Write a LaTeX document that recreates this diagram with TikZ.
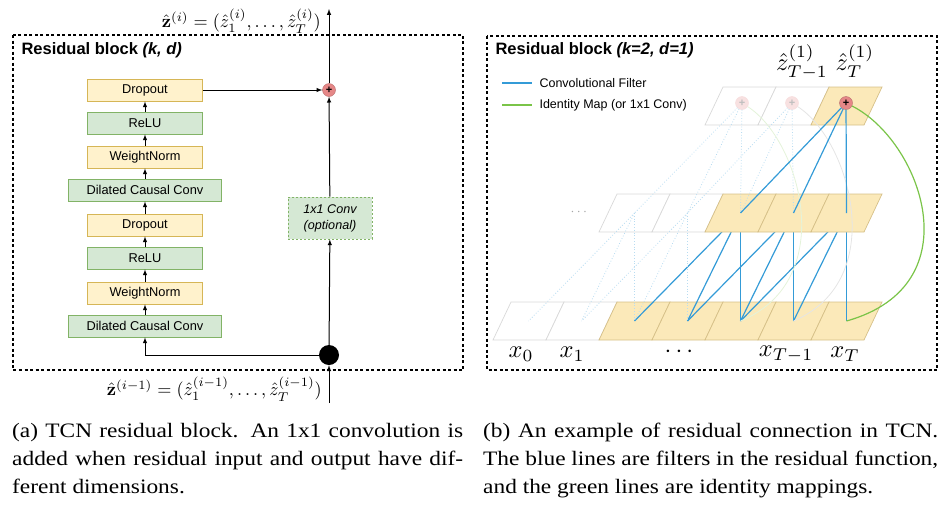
\documentclass[tikz,border=0pt]{standalone}
\usepackage{amsmath}
\usepackage{amssymb}
\usepackage[no-math]{fontspec}
\setmainfont{Liberation Serif}
\newfontfamily\helv{Liberation Sans}
\newfontfamily\capfont[FakeStretch=1.14]{Liberation Serif}
\usetikzlibrary{arrows}

\definecolor{ylwfill}{RGB}{255,242,204}
\definecolor{ylwdraw}{RGB}{214,182,86}
\definecolor{grnfill}{RGB}{213,232,212}
\definecolor{grndraw}{RGB}{130,179,102}
\definecolor{cellfill}{RGB}{251,233,185}
\definecolor{celldraw}{RGB}{214,192,136}
\definecolor{filterblue}{RGB}{52,155,215}
\definecolor{idgreen}{RGB}{122,196,72}
\definecolor{sumred}{RGB}{229,135,135}

\newcommand{\zmath}[1]{\scalebox{1.82}{$#1$}}
\newcommand{\xmath}[1]{\scalebox{2.45}{$#1$}}

\begin{document}
\begin{tikzpicture}[x=1pt,y=-1pt,>=latex,
  frame/.style={line width=1.3pt, dash pattern=on 3pt off 2.5pt},
  ylw/.style={draw=ylwdraw, fill=ylwfill, line width=0.8pt, minimum width=115pt,
    minimum height=22pt, inner sep=0pt, font=\helv\fontsize{12.8}{15}\selectfont},
  grn/.style={ylw, draw=grndraw, fill=grnfill},
  wide/.style={minimum width=153pt},
  flow/.style={->, line width=1pt},
  title/.style={anchor=west, font=\helv\bfseries\fontsize{16.5}{20}\selectfont},
  legend/.style={anchor=west, font=\helv\fontsize{12.5}{15}\selectfont},
  ycell/.style={draw=celldraw, fill=cellfill, line width=0.7pt},
  wcell/.style={draw=black!15, fill=white, line width=0.7pt},
  filter/.style={filterblue, line width=1.2pt},
  ident/.style={idgreen, line width=1.2pt},
  ghost/.style={filterblue!35, line width=0.8pt, dotted},
  sum/.style={circle, fill=sumred, draw=sumred!80!black, minimum size=13pt, inner sep=0pt,
    font=\helv\bfseries\fontsize{11}{11}\selectfont},
  caption/.style={anchor=north west, inner sep=0pt, align=justify,
    font=\capfont\fontsize{20.5}{28}\selectfont}]
\useasboundingbox (0,0) rectangle (951,507);
% (a) residual block
\draw[frame] (13,35) rectangle (463,370);
\node[title] (titleA) at (18,50) {Residual block \textit{(k, d)}};
%
\node[ylw] (drop1) at (145,90) {Dropout};
\node[grn] (relu1) at (145,123) {ReLU};
\node[ylw] (wn1) at (145,157) {WeightNorm};
\node[grn,wide] (dcc1) at (145,190) {Dilated Causal Conv};
\node[ylw] (drop2) at (145,225) {Dropout};
\node[grn] (relu2) at (145,258) {ReLU};
\node[ylw] (wn2) at (145,293) {WeightNorm};
\node[grn,wide] (dcc2) at (145,326) {Dilated Causal Conv};
%
\node[grn, dash pattern=on 2pt off 2pt, minimum width=84pt, minimum height=42pt,
  align=center, font=\helv\itshape\fontsize{12.6}{16}\selectfont] (conv) at (330,218) {1x1 Conv\\(optional)};
\node[sum] (plus) at (329,90) {+};
\node[circle, fill=black, minimum size=20pt, inner sep=0pt] (split) at (329,355) {};
\coordinate (zin) at (329,403);
\coordinate (zout) at (329,9);
%
\draw[flow] (dcc2) -- (wn2);
\draw[flow] (wn2) -- (relu2);
\draw[flow] (relu2) -- (drop2);
\draw[flow] (drop2) -- (dcc1);
\draw[flow] (dcc1) -- (wn1);
\draw[flow] (wn1) -- (relu1);
\draw[flow] (relu1) -- (drop1);
\draw[flow] (drop1) -- (plus);
\draw[flow] (zin) -- (split);
\draw[flow] (split) -- (conv);
\draw[flow] (conv) -- (plus);
\draw[flow] (plus) -- (zout);
\draw[flow] (split) -| (dcc2);
%
\node[anchor=east, inner sep=0pt] (zi) at (321,21)
  {\zmath{\hat{\mathbf{z}}^{(i)} = (\hat{z}_1^{(i)}, \ldots, \hat{z}_T^{(i)})}};
\node[anchor=east, inner sep=0pt] (zim) at (322,389)
  {\zmath{\hat{\mathbf{z}}^{(i-1)} = (\hat{z}_1^{(i-1)}, \ldots, \hat{z}_T^{(i-1)})}};
% (b) example, k=2, d=1
\draw[frame] (487,36) rectangle (937,370);
\node[title] (titleB) at (492,50) {Residual block \textit{(k=2, d=1)}};
\coordinate (lb1) at (502,83); \coordinate (lb2) at (532,83);
\coordinate (lg1) at (502,105); \coordinate (lg2) at (532,105);
\draw[filter] (lb1) -- (lb2);
\draw[ident] (lg1) -- (lg2);
\node[legend] (legb) at (536,83) {Convolutional Filter};
\node[legend] (legg) at (536,105) {Identity Map (or 1x1 Conv)};
%
\foreach \i/\s in {0/wcell,1/wcell,2/ycell,3/ycell,4/ycell,5/ycell,6/ycell}{
  \draw[\s] ({493+53*\i},340) -- ++(53,0) -- ++(18,-38) -- ++(-53,0) -- cycle;
  \coordinate (b\i) at ({493+53*\i+35.5},321);
}
\foreach \m in {4,5,6}{
  \pgfmathtruncatemacro{\ma}{\m-2}
  \pgfmathtruncatemacro{\mb}{\m-1}
  \coordinate (m\m) at ({493+53*\m+35.5},213);
  \draw[filter] (m\m) -- (b\ma);
  \draw[filter] (m\m) -- (b\mb);
  \draw[filter] (m\m) -- (b\m);
}
\foreach \i/\s in {2/wcell,3/wcell,4/ycell,5/ycell,6/ycell}{
  \draw[\s] ({493+53*\i},232) -- ++(53,0) -- ++(18,-38) -- ++(-53,0) -- cycle;
  \coordinate (m\i) at ({493+53*\i+35.5},213);
}
\foreach \i/\s in {4/wcell,5/wcell,6/ycell}{
  \draw[\s] ({493+53*\i},125) -- ++(53,0) -- ++(18,-38) -- ++(-53,0) -- cycle;
}
%
\node[sum, fill=sumred!25, draw=sumred!30, text=black!25] (t4) at (742,103) {+};
\node[sum, fill=sumred!25, draw=sumred!30, text=black!25] (t5) at (792,103) {+};
\draw[ghost] (t4) -- (m2); \draw[ghost] (t4) -- (m3); \draw[ghost] (t4) -- (m4);
\draw[ghost] (t5) -- (m3); \draw[ghost] (t5) -- (m4); \draw[ghost] (t5) -- (m5);
\draw[ghost] (m2) -- (b0); \draw[ghost] (m2) -- (b1); \draw[ghost] (m2) -- (b2);
\draw[ghost] (m3) -- (b1); \draw[ghost] (m3) -- (b2); \draw[ghost] (m3) -- (b3);
\draw[idgreen!20, line width=0.8pt] (t4) .. controls (800,140) and (840,280) .. (b4);
\draw[black!10, line width=0.8pt] (t5) .. controls (850,140) and (890,280) .. (b5);
%
\node[sum] (t6) at (846,103) {+};
\draw[filter] (t6) -- (m4);
\draw[filter] (t6) -- (m5);
\draw[filter] (t6) -- (m6);
\draw[ident] (t6) .. controls (920,140) and (975,285) .. (b6);
%
\node (zT1) at (802,62) {\xmath{\hat{z}^{(1)}_{T-1}}};
\node (zT) at (855,61) {\xmath{\hat{z}^{(1)}_{T}}};
\node[text=black!35] (mdots) at (580,212) {\scalebox{1.4}{$\cdots$}};
\node (x0) at (521,354) {\xmath{x_0}};
\node (x1) at (572,354) {\xmath{x_1}};
\node (xd) at (681,352) {\xmath{\cdots}};
\node (xT1) at (786,354) {\xmath{x_{T-1}}};
\node (xT) at (845,354) {\xmath{x_T}};
% captions
\node[caption, text width=451pt] (capA) at (12,423) {\tolerance=5000
  (a) TCN residual block. An 1x1 convolution is\linebreak
  added when residual input and output have dif-\linebreak
  ferent dimensions.};
\node[caption, text width=455pt] (capB) at (483,423) {\tolerance=5000
  (b) An example of residual connection in TCN.\linebreak
  The blue lines are filters in the residual function,\linebreak
  and the green lines are identity mappings.};
\end{tikzpicture}
\end{document}
